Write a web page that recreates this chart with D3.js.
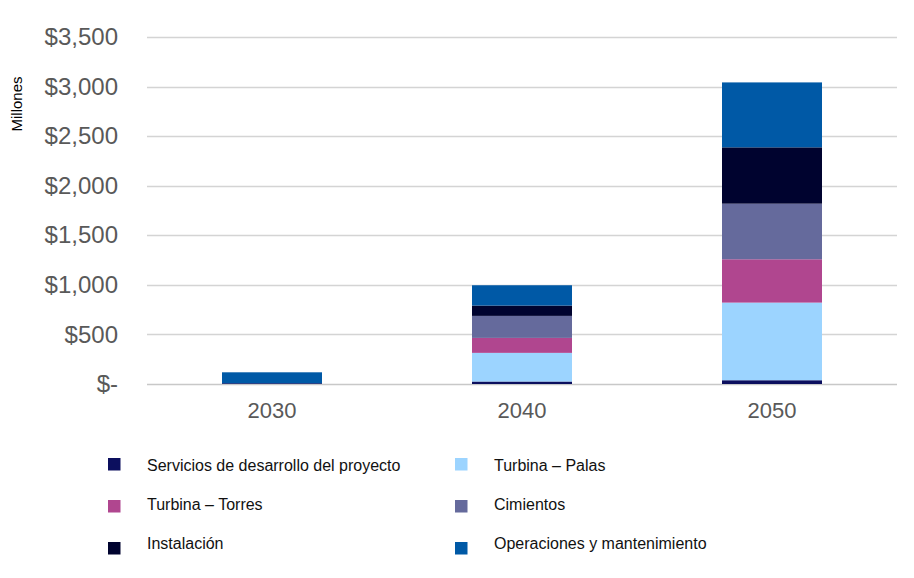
<!DOCTYPE html>
<html>
<head>
<meta charset="utf-8">
<script src="https://cdn.jsdelivr.net/npm/d3@7"></script>
<style>
  html, body { margin: 0; padding: 0; background: #fff; }
  svg { display: block; font-family: "Liberation Sans", Arial, sans-serif; }
</style>
</head>
<body>
<svg id="chart" width="914" height="578"></svg>
<script>
// Inversión acumulada por componente (millones de dólares)
const years = ["2030", "2040", "2050"];
const seriesNames = [
  "Servicios de desarrollo del proyecto",
  "Turbina – Palas",
  "Turbina – Torres",
  "Cimientos",
  "Instalación",
  "Operaciones y mantenimiento"
];
const servicios  = [8, 25, 38];
const palas      = [0, 289, 783];
const torres     = [0, 151, 437];
const cimientos  = [0, 222, 561];
const instalacion = [0, 104, 568];
const operaciones = [110, 205, 655];
const seriesColors = ["#0c0f5e", "#9cd4ff", "#b0468f", "#656a9c", "#00032f", "#0059a6"];
const yTicks = [0, 500, 1000, 1500, 2000, 2500, 3000, 3500];

const seriesValues = [servicios, palas, torres, cimientos, instalacion, operaciones];
const rows = years.map((y, i) => {
  const r = { year: y };
  seriesNames.forEach((n, k) => { r[n] = seriesValues[k][i]; });
  return r;
});
const stacked = d3.stack().keys(seriesNames)(rows);

const svg = d3.select("#chart");
const x = d3.scaleBand().domain(years).range([147, 897]).paddingInner(0.6).paddingOuter(0.3);
const y = d3.scaleLinear().domain([0, 3500]).range([384, 37]);

const fmt = v => v === 0 ? "$-" : "$" + d3.format(",")(v);

// horizontal gridlines
svg.append("g")
  .selectAll("line")
  .data(yTicks)
  .join("line")
  .attr("x1", 147).attr("x2", 897)
  .attr("y1", d => Math.round(y(d)) + 0.5).attr("y2", d => Math.round(y(d)) + 0.5)
  .attr("stroke", d => d === 0 ? "#c8c8c8" : "#d4d4d4")
  .attr("stroke-width", d => d === 0 ? 1.5 : 1.3);

// y axis labels
const yAxis = d3.axisLeft(y).tickValues(yTicks).tickFormat(fmt).tickSize(0).tickPadding(0);
const gy = svg.append("g").attr("transform", "translate(118,0)").call(yAxis);
gy.select(".domain").remove();
gy.selectAll("text")
  .attr("font-size", 24)
  .attr("fill", "#595959")
  .attr("font-family", "Liberation Sans, Arial, sans-serif");

// y axis title
svg.append("text")
  .attr("transform", "translate(22,104) rotate(-90)")
  .attr("text-anchor", "middle")
  .attr("font-size", 15)
  .attr("fill", "#000")
  .text("Millones");

// stacked bars
svg.append("g")
  .selectAll("g")
  .data(stacked)
  .join("g")
  .attr("fill", (d, i) => seriesColors[i])
  .selectAll("rect")
  .data(d => d)
  .join("rect")
  .attr("x", d => x(d.data.year))
  .attr("width", x.bandwidth())
  .attr("y", d => y(d[1]))
  .attr("height", d => Math.max(0, y(d[0]) - y(d[1])));

// x axis labels
const xAxis = d3.axisBottom(x).tickSize(0).tickPadding(0);
const gx = svg.append("g").attr("transform", "translate(0,400)").call(xAxis);
gx.select(".domain").remove();
gx.selectAll("text")
  .attr("dy", "0.8em")
  .attr("font-size", 22)
  .attr("fill", "#595959")
  .attr("font-family", "Liberation Sans, Arial, sans-serif");

// legend (two columns, three rows)
const legendOrder = [0, 1, 2, 3, 4, 5];
const colX = [108, 455];
const rowY = [465, 504, 543];
const squareDy = [0, 3, 6];
const legend = svg.append("g")
  .selectAll("g")
  .data(legendOrder)
  .join("g")
  .attr("transform", (d, i) => `translate(${colX[i % 2]},${rowY[Math.floor(i / 2)]})`);
legend.append("rect")
  .attr("x", 0)
  .attr("y", (d, i) => -7 + squareDy[Math.floor(i / 2)])
  .attr("width", 12.5).attr("height", 12.5)
  .attr("fill", d => seriesColors[d]);
legend.append("text")
  .attr("x", 39)
  .attr("dy", "0.35em")
  .attr("font-size", 16)
  .attr("fill", "#111")
  .text(d => seriesNames[d]);
</script>
</body>
</html>
